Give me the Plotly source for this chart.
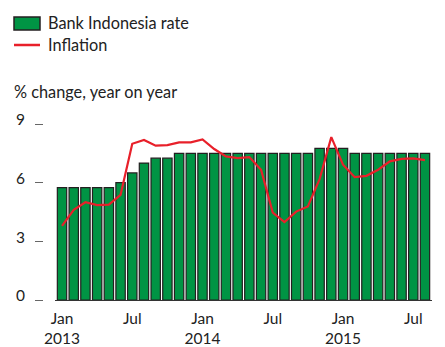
import plotly.graph_objects as go

months = ["Jan", "Feb", "Mar", "Apr", "May", "Jun", "Jul", "Aug", "Sep", "Oct", "Nov", "Dec"]
years = [2013, 2014, 2015]
categories = [f"{m} {y}" for y in years for m in months][:32]  # Jan 2013 - Aug 2015

bi_rate = [5.75, 5.75, 5.75, 5.75, 5.75, 6.00, 6.50, 7.00, 7.25, 7.25, 7.50, 7.50,
           7.50, 7.50, 7.50, 7.50, 7.50, 7.50, 7.50, 7.50, 7.50, 7.50, 7.75, 7.75,
           7.75, 7.50, 7.50, 7.50, 7.50, 7.50, 7.50, 7.50]

inflation = [3.79, 4.61, 5.00, 4.85, 4.88, 5.38, 7.99, 8.18, 7.89, 7.92, 8.06, 8.06,
             8.21, 7.72, 7.34, 7.26, 7.31, 6.66, 4.47, 3.98, 4.52, 4.78, 6.18, 8.33,
             6.92, 6.28, 6.35, 6.66, 7.09, 7.22, 7.24, 7.15]

tick_cats = ["Jan 2013", "Jul 2013", "Jan 2014", "Jul 2014", "Jan 2015", "Jul 2015"]
tick_text = ["Jan<br>2013", "Jul", "Jan<br>2014", "Jul", "Jan<br>2015", "Jul"]
y_ticks = [0, 3, 6, 9]

GREEN = "#009444"
OUTLINE = "#231f20"
RED = "#e8202a"
FONT = "Lato"

fig = go.Figure()
fig.add_trace(go.Bar(
    x=categories, y=bi_rate, name="Bank Indonesia rate",
    marker=dict(color=GREEN, line=dict(color=OUTLINE, width=1.2)),
    width=0.8, showlegend=False,
))
fig.add_trace(go.Scatter(
    x=categories, y=inflation, name="Inflation", mode="lines",
    line=dict(color=RED, width=2.2), showlegend=False,
))

W, H = 445, 347
L, R, T, B = 43, 13, 124, 47
plot_w = W - L - R
plot_h = H - T - B
dom_start = (55 - L) / plot_w


def px(x):
    return (x - L) / plot_w


def py(y):
    return (H - B - y) / plot_h


fig.update_layout(
    width=W, height=H,
    margin=dict(l=L, r=R, t=T, b=B, autoexpand=False),
    paper_bgcolor="white", plot_bgcolor="white",
    font=dict(family=FONT, size=15, color="#222222"),
    bargap=0.2,
    xaxis=dict(
        type="category", domain=[dom_start, 1],
        range=[-0.6, 31.6], automargin=False,
        tickmode="array", tickvals=tick_cats, ticktext=tick_text,
        showline=True, linecolor="#333333", linewidth=1,
        ticks="", showgrid=False, zeroline=False,
        ticklabelstandoff=4,
        tickfont=dict(family=FONT, size=15.5, color="#222222"),
    ),
    yaxis=dict(
        range=[0, 9], anchor="free", position=0, automargin=False,
        tickmode="array", tickvals=y_ticks,
        ticks="outside", ticklen=8, tickcolor="#666666", tickwidth=1,
        showline=False, showgrid=False, zeroline=False,
        ticklabelstandoff=7, ticklabelshift=-4,
        tickfont=dict(family=FONT, size=15.5, color="#222222"),
    ),
    shapes=[
        dict(type="rect", xref="paper", yref="paper",
             x0=px(14), x1=px(40), y0=py(30), y1=py(17),
             fillcolor=GREEN, line=dict(color=OUTLINE, width=1.5)),
        dict(type="line", xref="paper", yref="paper",
             x0=px(14), x1=px(40), y0=py(45), y1=py(45),
             line=dict(color=RED, width=2.5)),
    ],
    annotations=[
        dict(text="Bank Indonesia rate", xref="paper", yref="paper",
             x=px(46), y=py(23), xanchor="left", yanchor="middle", showarrow=False,
             font=dict(family=FONT, size=16.3, color="#222222")),
        dict(text="Inflation", xref="paper", yref="paper",
             x=px(46), y=py(45), xanchor="left", yanchor="middle", showarrow=False,
             font=dict(family=FONT, size=16.3, color="#222222")),
        dict(text="% change, year on year", xref="paper", yref="paper",
             x=px(12), y=py(91), xanchor="left", yanchor="middle", showarrow=False,
             font=dict(family=FONT, size=16.3, color="#222222")),
    ],
)

fig.write_html("out.html", config={"displayModeBar": False},
               post_script="document.body.style.margin='0';")
